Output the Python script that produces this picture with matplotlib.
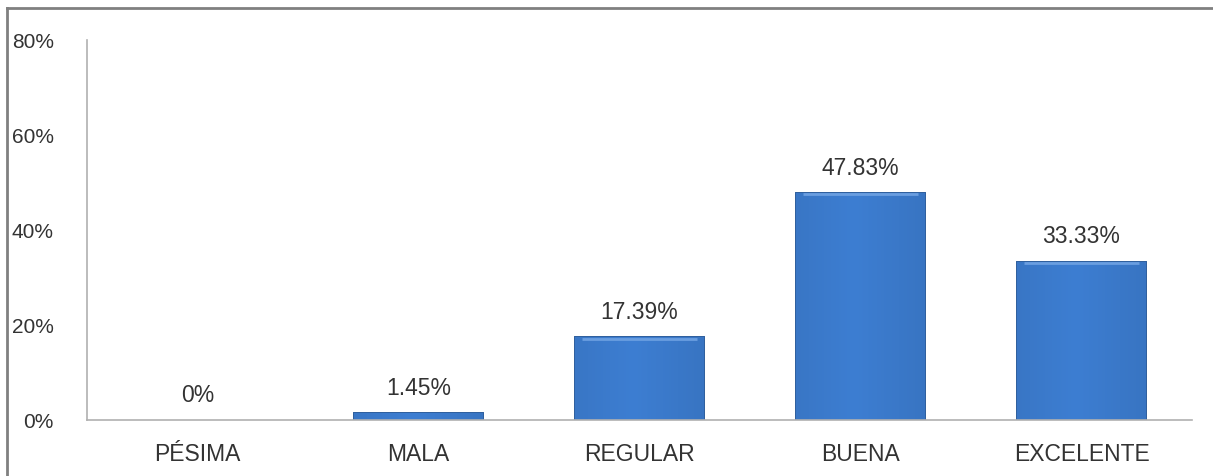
import numpy as np
import matplotlib
matplotlib.use("Agg")
from matplotlib import pyplot as plt
from matplotlib.lines import Line2D

# data
categories = ["PÉSIMA", "MALA", "REGULAR", "BUENA", "EXCELENTE"]
values = [0.0, 1.45, 17.39, 47.83, 33.33]
labels = ["0%", "1.45%", "17.39%", "47.83%", "33.33%"]
yticks = [0, 20, 40, 60, 80]

plt.rcParams['font.family'] = ['Liberation Sans', 'DejaVu Sans']

W, H = 1213, 477
fig = plt.figure(figsize=(W / 100, H / 100), dpi=100)
ax = fig.add_axes([87 / W, (H - 421) / H, (1192 - 87) / W, (421 - 41) / H])

x = np.arange(len(categories))
bw = 0.58
edge = ["none" if v == 0 else "#2b5c9c" for v in values]
bars = ax.bar(x, values, width=bw, color="#3a78c8", edgecolor=edge, linewidth=1.4, zorder=2)

# gradient fill inside each bar (lighter in the middle, darker at the sides)
grad = np.linspace(0, 1, 64)
shade = 1 - 0.35 * np.abs(grad - 0.45) * 2
img = np.zeros((1, 64, 3))
base = np.array([0x3a, 0x78, 0xc8]) / 255
for i in range(64):
    img[0, i] = np.clip(base * (0.85 + 0.2 * shade[i]), 0, 1)
for b, v in zip(bars, values):
    if v <= 0:
        continue
    x0 = b.get_x()
    im = ax.imshow(img, extent=[x0, x0 + bw, 0, v], aspect="auto", zorder=2.5,
                   interpolation="bicubic")
    im.set_clip_path(b)
    # small highlight at top of the bar
    if v > 3:
        ax.plot([x0 + 0.03, x0 + bw - 0.03], [v - 0.35, v - 0.35], color="#6a9ee0",
                lw=2, zorder=3, solid_capstyle="butt")

for xi, v, lab in zip(x, values, labels):
    ax.text(xi, v + 3.0, lab, ha="center", va="bottom", fontsize=16.5, color="#333333")

ax.set_xlim(-0.5, len(categories) - 0.5)
ax.set_ylim(0, 80)
ax.set_yticks(yticks)
ax.set_yticklabels([f"{t}%" for t in yticks])
ax.set_xticks(x)
ax.set_xticklabels(categories)
ax.tick_params(axis="both", length=0, labelcolor="#333333")
ax.tick_params(axis="y", pad=24, labelsize=15)
ax.tick_params(axis="x", pad=16, labelsize=16.5)

for s in ["top", "right"]:
    ax.spines[s].set_visible(False)
ax.spines["left"].set_color("#b0b0b0")
ax.spines["bottom"].set_color("#b0b0b0")
ax.spines["left"].set_linewidth(1.2)
ax.spines["bottom"].set_linewidth(1.2)

# outer frame of the chart area
fig.add_artist(Line2D([7 / W, 1], [1 - 9 / H, 1 - 9 / H], transform=fig.transFigure,
                      color="#808080", lw=2))
fig.add_artist(Line2D([7 / W, 7 / W], [0, 1 - 9 / H], transform=fig.transFigure,
                      color="#808080", lw=2))

fig.savefig("out.png", dpi=100)
